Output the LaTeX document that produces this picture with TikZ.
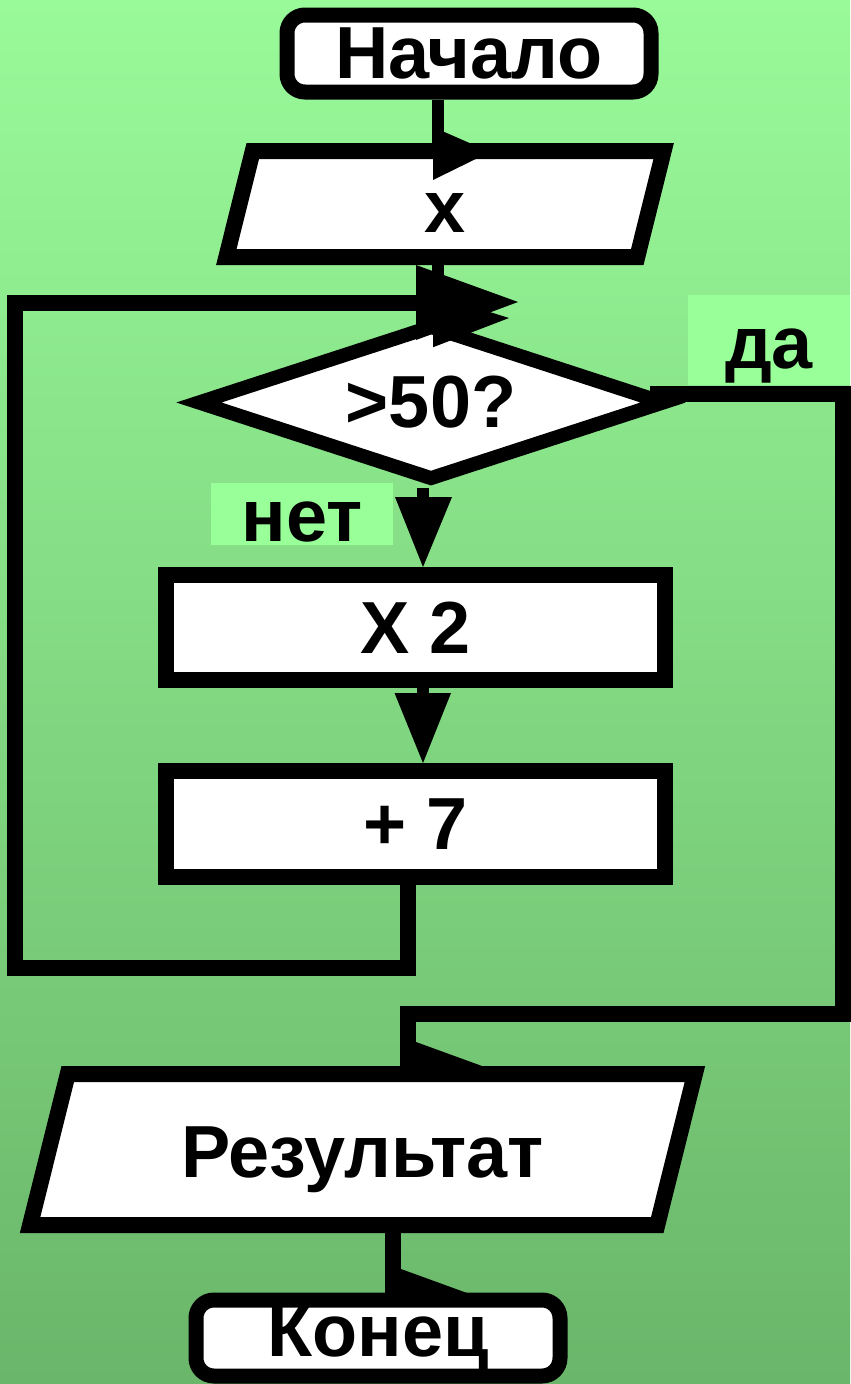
\documentclass[tikz,border=0pt]{standalone}
\usepackage{fontspec}
\setmainfont{Liberation Sans}
\usetikzlibrary{shapes.geometric, calc}

\definecolor{bgtop}{RGB}{153,250,153}
\definecolor{bgbot}{RGB}{106,182,106}
\definecolor{tagfill}{RGB}{153,255,153}

\tikzset{
  every node/.style={font=\fontsize{42}{42}\selectfont\bfseries},
  terminal/.style={draw, line width=0.3cm, rounded corners=0.36cm, fill=white,
    minimum width=7.28cm, minimum height=1.54cm, inner sep=0},
  iobox/.style={trapezium, trapezium left angle=76, trapezium right angle=104,
    draw, line width=0.32cm, fill=white, inner sep=0, align=center},
  procbox/.style={draw, line width=0.32cm, fill=white,
    minimum width=9.98cm, minimum height=2.1cm, inner sep=0},
  decision/.style={diamond, aspect=3, draw, line width=0.28cm, fill=white,
    minimum width=9.4cm, minimum height=3.14cm, inner sep=0},
  tag/.style={fill=tagfill, inner sep=0},
  flow/.style={line width=0.32cm},
  thinflow/.style={line width=0.24cm}
}

\begin{document}
\begin{tikzpicture}
% Background
\useasboundingbox (0,0) rectangle (17,-27.68);
\shade[top color=bgtop, bottom color=bgbot] (0,0) rectangle (17,-27.68);

% Blocks
\node[terminal] (start) at (9.38,-1.07) {Начало};
\node[iobox, text width=7.69cm, text height=1.62cm, text depth=0.5cm] (input) at (8.9,-4.08) {x};
\node[decision] (check) at (8.62,-8.05) {>50?};
\node[procbox] (double) at (8.31,-12.55) {X 2};
\node[procbox, minimum height=2.12cm] (addseven) at (8.31,-16.48) {+ 7};
\node[iobox, text width=11.79cm, text height=2.06cm, text depth=0.96cm] (result) at (7.25,-22.99) {Результат};
\node[terminal, minimum height=1.52cm] (finish) at (7.56,-26.76) {Конец};

% Branch labels
\node[tag, minimum width=3.24cm, minimum height=1.8cm, text height=1.42cm, text depth=0.3cm] (yes) at (15.38,-6.8) {да};
\node[tag, minimum width=3.64cm, minimum height=1.24cm, text height=1.08cm, text depth=0pt] (no) at (6.04,-10.28) {нет};

% Line columns and rows
\coordinate (colA) at (8.75,0);
\coordinate (colB) at (8.46,0);
\coordinate (colC) at (8.16,0);
\coordinate (colD) at (7.86,0);
\coordinate (colL) at (0.3,0);
\coordinate (colR) at (16.86,0);
\coordinate (rowBack) at (0,-6.06);
\coordinate (rowLoop) at (0,-19.36);
\coordinate (rowJoin) at (0,-20.28);
\coordinate (backEnd) at (8.32,-6.06);

% Start -> input
\draw[thinflow] (start.south -| colA) -- (input.north -| colA);
\fill (8.66,-2.54) -- (9.8,-3.04) -- (8.66,-3.6) -- cycle;

% Input -> check
\draw[thinflow] (input.south -| colA) -- (check.north -| colA);

% Loop back
\draw[flow] (addseven.south -| colC) -- (colC |- rowLoop) -- (colL |- rowLoop)
  -- (colL |- rowBack) -- (backEnd);
\fill (8.32,-5.3) -- (10.36,-6.04) -- (8.32,-6.8) -- cycle;
\fill (8.66,-5.885) -- (10.18,-6.36) -- (8.66,-6.945) -- cycle;

% No branch
\draw[thinflow, shorten >=1.3cm] (check.south -| colB) -- (double.north -| colB);
\fill (7.9,-9.94) -- (9.04,-9.94) -- (8.46,-11.34) -- cycle;
\draw[thinflow, shorten >=1.3cm] (double.south -| colB) -- (addseven.north -| colB);
\fill (7.89,-13.86) -- (9.02,-13.86) -- (8.46,-15.26) -- cycle;

% Yes branch
\draw[flow] ($(check.east)+(-0.46,0.17)$) -- (colR |- 0,-7.88) -- (colR |- rowJoin)
  -- (colC |- rowJoin) -- (result.north -| colC);
\fill (8.32,-20.84) -- (9.64,-21.32) -- (8.32,-21.32) -- cycle;

% Result -> end
\draw[flow] (result.south -| colD) -- (finish.north -| colD);
\fill (8.02,-25.38) -- (9.34,-25.86) -- (8.02,-25.86) -- cycle;
\end{tikzpicture}
\end{document}
